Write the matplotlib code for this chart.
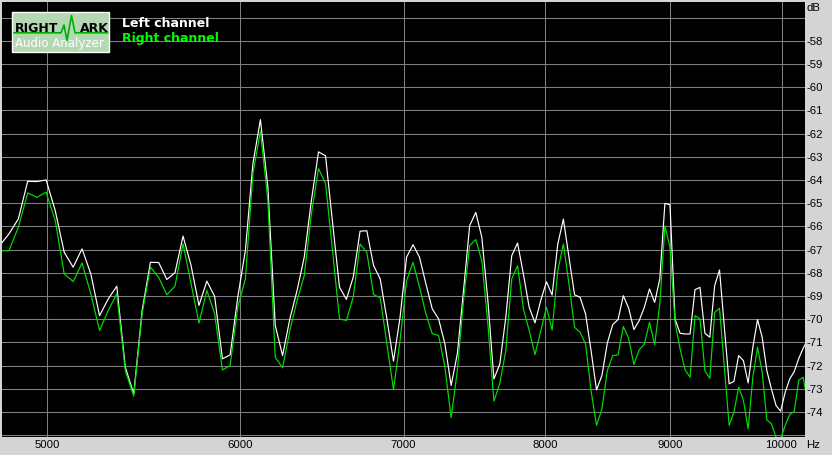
import matplotlib
matplotlib.use("Agg")
import matplotlib.pyplot as plt
from matplotlib.patches import Rectangle
from matplotlib.lines import Line2D

# ---- data (FFT bins, Hz) ----
freq_hz = [4780.4, 4823.4, 4866.5, 4909.6, 4952.6, 4995.7, 5038.8, 5081.8, 5124.9, 5168.0,
           5211.0, 5254.1, 5297.2, 5340.2, 5383.3, 5426.4, 5469.4, 5512.5, 5555.6, 5598.6,
           5641.7, 5684.8, 5727.8, 5770.9, 5814.0, 5857.0, 5900.1, 5943.2, 5986.2, 6029.3,
           6072.4, 6115.4, 6158.5, 6201.6, 6244.6, 6287.7, 6330.8, 6373.8, 6416.9, 6460.0,
           6503.0, 6546.1, 6589.2, 6632.2, 6675.3, 6718.4, 6761.4, 6804.5, 6847.6, 6890.6,
           6933.7, 6976.8, 7019.8, 7062.9, 7106.0, 7149.0, 7192.1, 7235.2, 7278.2, 7321.3,
           7364.4, 7407.4, 7450.5, 7493.6, 7536.6, 7579.7, 7622.8, 7665.8, 7708.9, 7752.0,
           7795.0, 7838.1, 7881.2, 7924.2, 7967.3, 8010.4, 8053.4, 8096.5, 8139.6, 8182.6,
           8225.7, 8268.8, 8311.8, 8354.9, 8398.0, 8441.0, 8484.1, 8527.1, 8570.2, 8613.3,
           8656.3, 8699.4, 8742.5, 8785.5, 8828.6, 8871.7, 8914.7, 8957.8, 9000.9, 9043.9,
           9087.0, 9130.1, 9173.1, 9216.2, 9259.3, 9302.3, 9345.4, 9388.5, 9431.5, 9474.6,
           9517.7, 9560.7, 9603.8, 9646.9, 9689.9, 9733.0, 9776.1, 9819.1, 9862.2, 9905.3,
           9948.3, 9991.4, 10034.5, 10077.5, 10120.6, 10163.7, 10206.7, 10249.8]

left_db = [-66.84, -66.33, -65.68, -64.06, -64.07, -64.00, -65.32, -67.12, -67.76, -66.97,
           -68.05, -69.85, -69.13, -68.58, -72.07, -73.22, -69.63, -67.55, -67.56, -68.29,
           -68.00, -66.42, -67.68, -69.41, -68.36, -69.02, -71.71, -71.54, -69.05, -67.04,
           -63.29, -61.40, -64.30, -70.27, -71.57, -69.99, -68.76, -67.32, -64.88, -62.79,
           -62.96, -65.83, -68.62, -69.15, -68.19, -66.21, -66.19, -67.69, -68.27, -69.99,
           -71.81, -69.92, -67.33, -66.79, -67.33, -68.48, -69.56, -69.99, -71.06, -72.86,
           -71.49, -68.77, -65.97, -65.40, -66.47, -69.20, -72.58, -71.93, -69.92, -67.27,
           -66.72, -68.06, -69.49, -70.16, -69.20, -68.39, -68.96, -66.76, -65.69, -67.34,
           -68.95, -69.06, -69.78, -71.36, -73.05, -72.43, -71.03, -70.24, -70.02, -68.99,
           -69.52, -70.45, -70.07, -69.49, -68.70, -69.28, -68.27, -65.01, -65.07, -69.99,
           -70.61, -70.64, -70.64, -68.73, -68.63, -70.61, -70.78, -68.56, -67.88, -70.35,
           -72.79, -72.68, -71.57, -71.79, -72.75, -71.21, -70.02, -70.78, -72.22, -73.01,
           -73.72, -73.97, -73.15, -72.58, -72.26, -71.70, -71.25, -70.90]

right_db = [-67.05, -67.05, -66.04, -64.56, -64.75, -64.53, -65.75, -68.05, -68.38, -67.58,
            -68.91, -70.49, -69.63, -68.91, -72.22, -73.32, -69.78, -67.76, -68.20, -68.95,
            -68.58, -66.75, -68.47, -70.17, -68.76, -69.77, -72.19, -72.00, -69.48, -68.26,
            -63.73, -61.90, -64.88, -71.64, -72.10, -70.49, -69.19, -68.12, -65.45, -63.51,
            -64.15, -67.05, -69.99, -70.06, -69.05, -66.76, -67.12, -68.94, -69.08, -71.06,
            -73.04, -70.92, -68.34, -67.55, -68.62, -69.77, -70.63, -70.70, -72.06, -74.25,
            -72.21, -69.20, -66.83, -66.57, -67.48, -70.21, -73.54, -72.76, -71.36, -68.27,
            -67.70, -69.56, -70.50, -71.53, -70.50, -69.49, -70.47, -67.91, -66.76, -68.49,
            -70.35, -70.57, -71.07, -73.08, -74.58, -73.87, -72.22, -71.57, -71.54, -70.32,
            -70.82, -71.96, -71.33, -71.08, -70.14, -71.10, -69.35, -65.98, -66.91, -70.14,
            -71.28, -72.19, -72.50, -69.85, -69.99, -72.22, -72.55, -69.71, -69.53, -72.07,
            -74.58, -74.01, -72.93, -73.51, -74.73, -72.50, -71.21, -72.29, -74.34, -74.51,
            -75.09, -75.16, -74.58, -74.11, -73.98, -72.63, -72.51, -73.60]

x_ticks = [5000, 6000, 7000, 8000, 9000, 10000]
x_tick_labels = ["5000", "6000", "7000", "8000", "9000", "10000"]
y_grid = list(range(-75, -56))
y_labeled = list(range(-74, -57))
series_names = ["Left channel", "Right channel"]

# ---- figure ----
W, H = 832, 455
BG = "#d4d4d4"
GRID = "#808080"
WHITE_LINE = "#ffffff"
GREEN_LINE = "#00e000"

fig = plt.figure(figsize=(W / 100, H / 100), dpi=100, facecolor=BG)

def fx(x):
    return x / W

def fy(y):
    return 1 - y / H

ax = fig.add_axes([fx(2), fy(437), (805 - 2) / W, (437 - 2) / H])
ax.set_facecolor("black")
ax.set_xscale("log")
ax.set_xlim(4792, 10224)
ax.set_ylim(-75.08, -56.33)
for s in ax.spines.values():
    s.set_visible(False)

ax.set_xticks(x_ticks)
ax.set_xticklabels(x_tick_labels)
ax.xaxis.set_minor_locator(matplotlib.ticker.NullLocator())
ax.set_yticks(y_grid)
ax.set_yticklabels([str(v) if v in y_labeled else "" for v in y_grid])
ax.yaxis.tick_right()
ax.tick_params(axis="both", length=0, labelsize=8.2, labelcolor="black")
ax.tick_params(axis="y", pad=1)
ax.tick_params(axis="x", pad=2.5)
for lab in ax.get_xticklabels() + ax.get_yticklabels():
    lab.set_fontfamily("Liberation Sans")
ax.grid(True, which="major", color=GRID, linewidth=0.75)
ax.set_axisbelow(True)

ax.plot(freq_hz, left_db, color=WHITE_LINE, linewidth=0.85, zorder=3)
ax.plot(freq_hz, right_db, color=GREEN_LINE, linewidth=0.85, zorder=4)

# axis unit labels
fig.text(fx(806.5), fy(8), "dB", fontsize=8.2, family="Liberation Sans",
         ha="left", va="center", color="black")
fig.text(fx(806.5), fy(445.5), "Hz", fontsize=8.2, family="Liberation Sans",
         ha="left", va="center", color="black")

# legend text
fig.text(fx(122.5), fy(26.7), series_names[0], fontsize=9.0, fontweight="bold",
         family="DejaVu Sans", color="#ffffff", ha="left", va="baseline")
fig.text(fx(122.5), fy(42.0), series_names[1], fontsize=9.0, fontweight="bold",
         family="DejaVu Sans", color="#00ff00", ha="left", va="baseline")

# logo
fig.patches.append(Rectangle((fx(12.3), fy(52.3)), (109.3 - 12.3) / W, (52.3 - 12.0) / H,
                             transform=fig.transFigure, facecolor="#b4d7b4",
                             edgecolor="#ffffff", linewidth=1.0, zorder=5))
wave_x = [14, 61, 64, 67, 71.5, 75, 107.5]
wave_y = [32.8, 32.8, 25, 40.5, 15.5, 32.8, 32.8]
fig.lines.append(Line2D([fx(v) for v in wave_x], [fy(v) for v in wave_y],
                        transform=fig.transFigure, color="#00b000", linewidth=1.2, zorder=6))
fig.text(fx(15), fy(31.5), "RIGHT", fontsize=9.0, fontweight="bold", family="DejaVu Sans",
         color="black", ha="left", va="baseline", zorder=7)
fig.text(fx(80), fy(31.5), "ARK", fontsize=9.0, fontweight="bold", family="DejaVu Sans",
         color="black", ha="left", va="baseline", zorder=7)
fig.text(fx(15), fy(47.5), "Audio Analyzer", fontsize=8.5, family="DejaVu Sans",
         color="white", ha="left", va="baseline", zorder=7)

fig.savefig("out.png", dpi=100, facecolor=BG)
